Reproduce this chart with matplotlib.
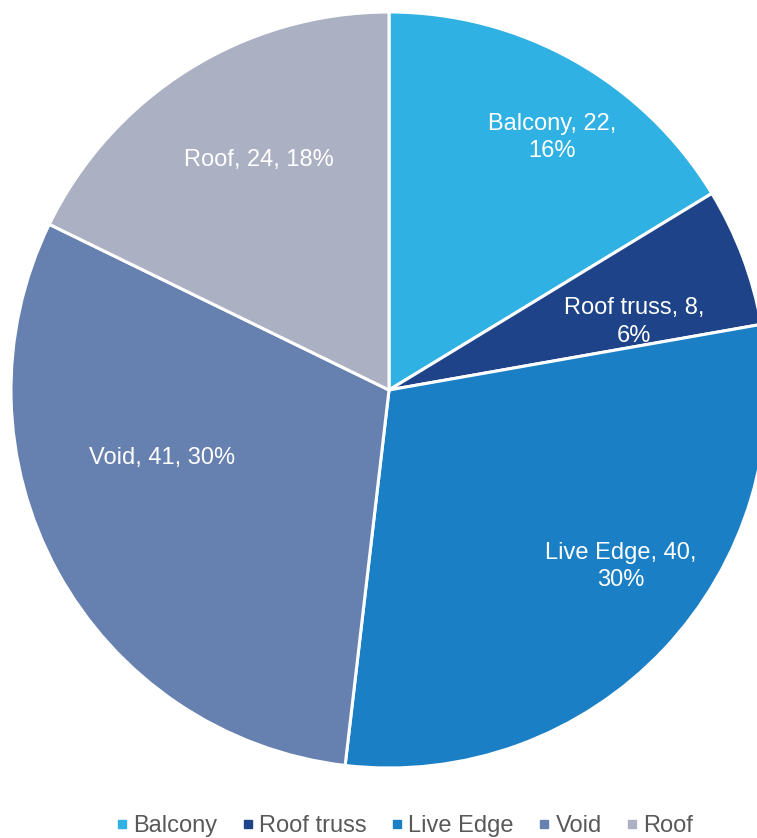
import matplotlib.pyplot as plt
from matplotlib.lines import Line2D

categories = ["Balcony", "Roof truss", "Live Edge", "Void", "Roof"]
counts = [22, 8, 40, 41, 24]
percents = ["16%", "6%", "30%", "30%", "18%"]
colors = ["#2FB1E3", "#1F4388", "#1A7FC4", "#6680B0", "#ABB0C3"]

# label text layout (line breaks as in the reference) and anchor points in pie-radius units
label_breaks = [True, True, True, False, False]
label_xy = [(0.431, 0.667), (0.648, 0.180), (0.614, -0.466), (-0.601, -0.180), (-0.344, 0.608)]

plt.rcParams["font.family"] = ["Liberation Sans", "DejaVu Sans"]

W, H, DPI = 757, 838, 100
fig = plt.figure(figsize=(W / DPI, H / DPI), dpi=DPI)

cx, cy, r = 389, 390, 378
ax = fig.add_axes([(cx - r) / W, (H - cy - r) / H, 2 * r / W, 2 * r / H])
ax.pie(counts, colors=colors, startangle=90, counterclock=False, radius=1,
       wedgeprops=dict(edgecolor="white", linewidth=2.2))
ax.set_xlim(-1, 1)
ax.set_ylim(-1, 1)
ax.set_aspect("auto")
ax.axis("off")

for name, n, pct, brk, (x, y) in zip(categories, counts, percents, label_breaks, label_xy):
    sep = "\n" if brk else " "
    ax.text(x, y, f"{name}, {n},{sep}{pct}", ha="center", va="center",
            color="white", fontsize=17, linespacing=1.3)

handles = [Line2D([], [], marker="s", linestyle="none", markersize=5.8,
                  markerfacecolor=c, markeredgecolor=c) for c in colors]
fig.legend(handles, categories, loc="center", bbox_to_anchor=(404 / W, (H - 826) / H),
           ncol=5, frameon=False, fontsize=17, labelcolor="#595959",
           handletextpad=0.17, columnspacing=1.0, handlelength=0.6)

fig.savefig("out.png", dpi=DPI, facecolor="white")
